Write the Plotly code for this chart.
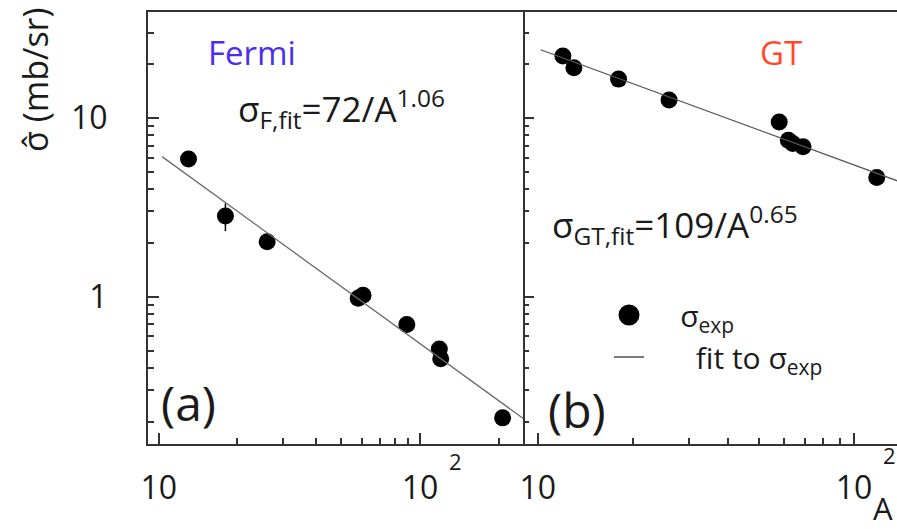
import plotly.graph_objects as go

# ---- data -------------------------------------------------------------
# Fermi transitions: mass number and measured unit cross section (mb/sr)
fermi_A = [13, 18, 26, 58, 60.5, 89, 118.5, 120, 207]
fermi_sigma = [5.9, 2.83, 2.03, 0.98, 1.02, 0.70, 0.51, 0.45, 0.21]
fermi_err = [0.0, 0.5, 0.0, 0.0, 0.0, 0.0, 0.0, 0.0, 0.0]

# Gamow-Teller transitions
gt_A = [12, 13, 18, 26, 58, 62, 64, 69, 118]
gt_sigma = [22.2, 19.1, 16.5, 12.6, 9.5, 7.5, 7.2, 6.9, 4.65]
gt_err = [0.0, 0.0, 0.0, 0.0, 0.0, 0.6, 0.0, 0.0, 0.0]

# power-law fits  sigma = N / A^p
fermi_fit_N, fermi_fit_p = 72, 1.06
gt_fit_N, gt_fit_p = 109, 0.65
fermi_fit_A = [10.3, 250]
gt_fit_A = [10.2, 150]

x_tickvals = [10, 100]
x_ticktext = ["10", "10"]
y_tickvals = [1, 10]
y_ticktext = ["1", "10"]

# ---- figure geometry --------------------------------------------------
W, H = 897, 529
FONT = "Open Sans"
AXIS_COLOR = "#333333"
TEXT_COLOR = "#1a1a1a"
NB = "\u00a0"


def px(x):
    return x / W


def py(y):
    return 1 - y / H


fermi_fit = [fermi_fit_N / a ** fermi_fit_p for a in fermi_fit_A]
gt_fit = [gt_fit_N / a ** gt_fit_p for a in gt_fit_A]

fig = go.Figure()

marker = dict(color="black", size=17, symbol="circle", line=dict(width=0))
err_style = dict(type="data", color="black", thickness=1.5, width=0)

fig.add_trace(go.Scatter(
    x=fermi_A, y=fermi_sigma, mode="markers", marker=marker,
    error_y=dict(array=fermi_err, **err_style),
    xaxis="x", yaxis="y", showlegend=False,
))
fig.add_trace(go.Scatter(
    x=fermi_fit_A, y=fermi_fit, mode="lines",
    line=dict(color="#6a6a6a", width=1.3),
    xaxis="x", yaxis="y", showlegend=False,
))
fig.add_trace(go.Scatter(
    x=gt_A, y=gt_sigma, mode="markers", marker=marker,
    error_y=dict(array=gt_err, **err_style),
    xaxis="x2", yaxis="y2", showlegend=False,
))
fig.add_trace(go.Scatter(
    x=gt_fit_A, y=gt_fit, mode="lines",
    line=dict(color="#555555", width=1.3),
    xaxis="x2", yaxis="y2", showlegend=False,
))

# legend entries (no data of their own)
fig.add_trace(go.Scatter(
    x=[None], y=[None], mode="markers",
    marker=dict(color="black", size=16, line=dict(color="black", width=5)),
    name=NB * 4 + "σ<sub>exp</sub>", xaxis="x2", yaxis="y2", showlegend=True,
))
fig.add_trace(go.Scatter(
    x=[None], y=[None], mode="lines",
    line=dict(color="#333333", width=1.3),
    name=NB * 6 + "fit to σ<sub>exp</sub>", xaxis="x2", yaxis="y2", showlegend=True,
))

tickfont = dict(family=FONT, size=32, color=TEXT_COLOR)
common_axis = dict(
    type="log", showgrid=False, zeroline=False, automargin=False,
    showline=True, linecolor=AXIS_COLOR, linewidth=2,
    ticks="inside", ticklen=11, tickwidth=1.5, tickcolor=AXIS_COLOR,
    tickfont=tickfont,
)
x_minor_left = [20, 30, 40, 50, 60, 70, 80, 90, 200]
x_minor_right = [20, 30, 40, 50, 60, 70, 80, 90]
y_minor = [0.2, 0.3, 0.4, 0.5, 0.6, 0.7, 0.8, 0.9,
           2, 3, 4, 5, 6, 7, 8, 9, 20, 30]

x_dom_left = [px(148), px(523)]
x_dom_right = [px(523), 1.0]
y_dom = [py(444), py(12)]
y_range = [-0.824, 1.593]


def minor(vals):
    return dict(ticks="inside", ticklen=6, tickwidth=1.5, tickcolor=AXIS_COLOR,
                tickmode="array", tickvals=vals)


fig.update_layout(
    width=W, height=H,
    margin=dict(l=0, r=0, t=0, b=0, pad=0, autoexpand=False),
    paper_bgcolor="white", plot_bgcolor="rgba(0,0,0,0)",
    font=dict(family=FONT, color=TEXT_COLOR),
    xaxis=dict(
        **common_axis, domain=x_dom_left, range=[0.959, 2.394],
        mirror=True, tickmode="array", tickvals=x_tickvals, ticktext=x_ticktext,
        ticklabelstandoff=15, anchor="y", minor=minor(x_minor_left),
    ),
    xaxis2=dict(
        **common_axis, domain=x_dom_right, range=[0.953, 2.136],
        mirror=True, tickmode="array", tickvals=x_tickvals, ticktext=x_ticktext,
        ticklabelstandoff=15, anchor="y2", minor=minor(x_minor_right),
    ),
    yaxis=dict(
        **common_axis, domain=y_dom, range=y_range, mirror=True,
        tickmode="array", tickvals=y_tickvals, ticktext=y_ticktext,
        ticklabelstandoff=32, anchor="x", minor=minor(y_minor),
    ),
    yaxis2=dict(
        **common_axis, domain=y_dom, range=y_range, mirror=False,
        tickmode="array", tickvals=y_tickvals, showticklabels=False, anchor="x2",
        minor=minor(y_minor),
    ),
    legend=dict(
        x=px(609), y=py(289), xanchor="left", yanchor="top",
        bgcolor="rgba(0,0,0,0)", borderwidth=0,
        font=dict(family=FONT, size=30, color=TEXT_COLOR),
        itemsizing="trace", tracegroupgap=0,
    ),
    showlegend=True,
)
# the shared panel border is drawn once, by the left panel's mirrored line
fig.update_yaxes(showline=False, selector=dict(anchor="x2"))

anns = [
    dict(text="Fermi", x=px(252), y=py(52), size=33, color="#4b2ef0"),
    dict(text="GT", x=px(781), y=py(52), size=33, color="#ff4a2a"),
    dict(text="σ<sub>F,fit</sub>=72/A<sup>1.06</sup>", x=px(236), y=py(109),
         xanchor="left", size=35),
    dict(text="σ<sub>GT,fit</sub>=109/A<sup>0.65</sup>", x=px(550), y=py(224),
         xanchor="left", size=35),
    dict(text="(a)", x=px(188), y=py(402), size=48),
    dict(text="(b)", x=px(577), y=py(409), size=48),
    dict(text="σ\u0302 (mb/sr)", x=px(35), y=py(80), textangle=-90, size=34),
    dict(text="A", x=px(895), y=py(508), xanchor="right", size=31),
]
for a in anns:
    size = a.pop("size")
    color = a.pop("color", TEXT_COLOR)
    a.setdefault("xanchor", "center")
    a.setdefault("yanchor", "middle")
    fig.add_annotation(xref="paper", yref="paper", showarrow=False,
                       font=dict(family=FONT, size=size, color=color), **a)

# exponent of the 10^2 tick labels
for xr, dy in (("x", 461), ("x2", 455)):
    fig.add_annotation(
        text="2", x=2, xref=xr, y=py(dy), yref="paper", xshift=35,
        showarrow=False, xanchor="center", yanchor="middle",
        font=dict(family=FONT, size=22, color=TEXT_COLOR),
    )

fig.write_html("out.html")
